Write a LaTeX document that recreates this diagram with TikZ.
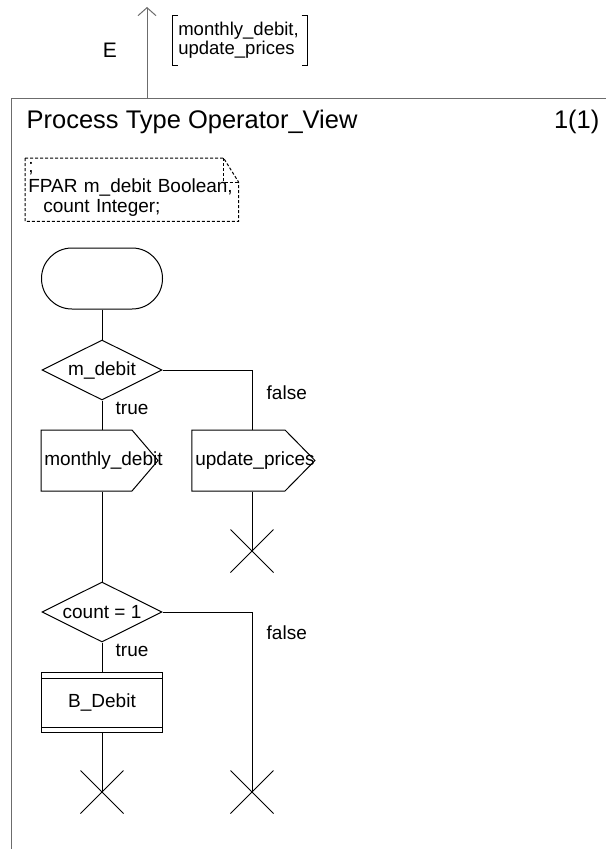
\documentclass[tikz,border=0pt]{standalone}
\usepackage{fontspec}
\setmainfont{Liberation Sans}
\usetikzlibrary{shapes.geometric,shapes.misc,shapes.symbols,arrows.meta}
\begin{document}
\begin{tikzpicture}[x=0.75pt,y=-0.75pt,
    every node/.style={font=\fontsize{14.25}{15}\selectfont},
    flow/.style={draw,line width=0.75pt},
    startbox/.style={flow,rectangle,rounded corners=22.8pt,minimum width=90.75pt,minimum height=45.75pt},
    decision/.style={flow,diamond,aspect=2,inner sep=0pt,minimum width=90pt,minimum height=45pt},
    outbox/.style={flow,signal,signal to=east,inner sep=0pt,minimum height=45.75pt},
    callbox/.style={flow,rectangle,minimum width=90.75pt,minimum height=45pt,
      path picture={\draw[line width=0.75pt]
        ([yshift=-4.5pt]path picture bounding box.north west) -- ([yshift=-4.5pt]path picture bounding box.north east)
        ([yshift=3.75pt]path picture bounding box.south west) -- ([yshift=3.75pt]path picture bounding box.south east);}},
    stopx/.style={flow,cross out,inner sep=0pt,minimum size=31.5pt},
    note/.style={line width=0.75pt,dash pattern=on 2.25pt off 1.5pt}]
  \useasboundingbox (0,0) rectangle (606,849);
  \draw[gray!85!black,line width=0.75pt] (606,98) -- (11,98) -- (11,849);
  \coordinate (chanfoot) at (147,98);
  \coordinate (chantip) at (147,7);
  \draw[gray!85!black,line width=0.75pt,->,>={Straight Barb[length=6pt,width=13.5pt]}] (chanfoot) -- (chantip);
  \node[font=\fontsize{15.75}{16}\selectfont] (chan) at (110,50) {E};
  \node[anchor=west,minimum height=36.75pt,inner xsep=4.5pt,text width=92.25pt,align=left,
    font=\fontsize{13.9}{12.75}\selectfont] (siglist) at (172,40.5) {monthly\_debit,\\update\_prices};
  \draw[line width=0.75pt] ([xshift=4.5pt]siglist.north west) -- (siglist.north west) -- (siglist.south west) -- ([xshift=4.5pt]siglist.south west);
  \draw[line width=0.75pt] ([xshift=-4.5pt]siglist.north east) -- (siglist.north east) -- (siglist.south east) -- ([xshift=-4.5pt]siglist.south east);
  \node[anchor=west,font=\fontsize{19.1}{20}\selectfont] (title) at (22,122) {Process Type Operator\_View};
  \node[anchor=east,font=\fontsize{19.1}{20}\selectfont] (page) at (604,122) {1(1)};
  \node[anchor=north west,minimum height=46.5pt,inner xsep=2.25pt,text width=155.25pt,align=left] (fpar) at (25,158)
    {;\\FPAR m\_debit Boolean,\\\hspace*{11.25pt}count Integer;};
  \draw[note] (fpar.north west) -- ([xshift=-11.25pt]fpar.north east) -- ([yshift=-18pt]fpar.north east)
    -- (fpar.south east) -- (fpar.south west) -- cycle;
  \draw[note] ([xshift=-11.25pt]fpar.north east) |- ([yshift=-18pt]fpar.north east);
  \node[startbox] (start) at (102,278.5) {};
  \node[decision] (debitq) at (102,370) {m\_debit};
  \node[outbox,signal pointer angle=99,minimum width=87.75pt,label={[xshift=12.75pt]center:monthly\_debit}] (mdebit) at (86.5,460.5) {};
  \node[outbox,signal pointer angle=91,minimum width=92.25pt,label={[xshift=12.4pt]center:update\_prices}] (uprices) at (238.5,460.5) {};
  \node[stopx] (stopa) at (252,551) {};
  \node[decision] (countq) at (102,612) {count = 1};
  \node[callbox] (bdebit) at (102,702) {B\_Debit};
  \node[stopx] (stopb) at (102,792) {};
  \node[stopx] (stopc) at (252,792) {};
  \draw[flow] (start) -- (debitq);
  \draw[flow] (debitq.south) -- (debitq.south |- mdebit.north);
  \draw[flow] (debitq.east) -| (stopa |- uprices.north);
  \draw[flow] (stopa |- uprices.south) -- (stopa.center);
  \draw[flow] (debitq.south |- mdebit.south) -- (countq.north);
  \draw[flow] (countq) -- (bdebit);
  \draw[flow] (bdebit) -- (stopb.center);
  \draw[flow] (countq.east) -| (stopc.center);
  \node[anchor=west] (true1) at (111,408) {true};
  \node[anchor=west] (false1) at (262,393) {false};
  \node[anchor=west] (true2) at (111,650) {true};
  \node[anchor=west] (false2) at (262,633) {false};
\end{tikzpicture}
\end{document}
